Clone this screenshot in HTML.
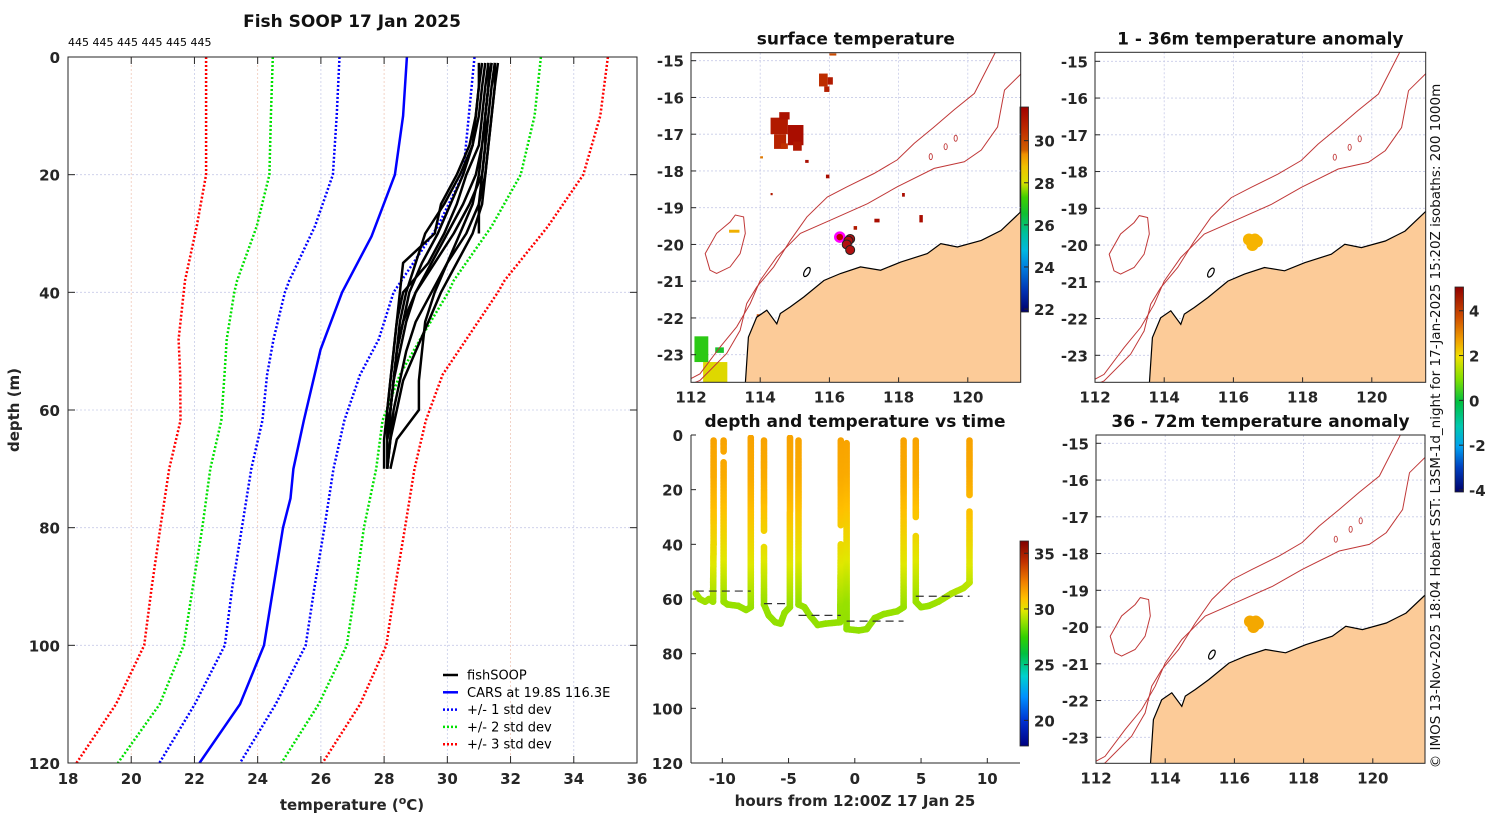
<!DOCTYPE html>
<html><head><meta charset="utf-8"><style>
html,body{margin:0;padding:0;background:#fff;}
svg{display:block;font-family:"DejaVu Sans","Liberation Sans",sans-serif;}
.tk{font-size:15px;font-weight:bold;fill:#262626;}
.ttl{font-size:17px;font-weight:bold;fill:#111;}
</style></head><body>
<svg id="fig" width="1500" height="820" viewBox="0 0 1500 820" xmlns="http://www.w3.org/2000/svg">
<defs>
<linearGradient id="gSst" x1="0" y1="1" x2="0" y2="0">
<stop offset="0" stop-color="#00006a"/><stop offset="0.1" stop-color="#0030b0"/><stop offset="0.22" stop-color="#0080e0"/><stop offset="0.3" stop-color="#00b8e0"/><stop offset="0.38" stop-color="#00c0a0"/><stop offset="0.48" stop-color="#10c030"/><stop offset="0.56" stop-color="#40d000"/><stop offset="0.63" stop-color="#d8e000"/><stop offset="0.71" stop-color="#f0c000"/><stop offset="0.77" stop-color="#f09000"/><stop offset="0.79" stop-color="#d06000"/><stop offset="0.88" stop-color="#c03000"/><stop offset="1" stop-color="#a00000"/>
</linearGradient>
<linearGradient id="gTime" x1="0" y1="1" x2="0" y2="0">
<stop offset="0" stop-color="#00007f"/><stop offset="0.12" stop-color="#0030d0"/><stop offset="0.24" stop-color="#0090ff"/><stop offset="0.34" stop-color="#00d0d0"/><stop offset="0.45" stop-color="#00c040"/><stop offset="0.53" stop-color="#30d000"/><stop offset="0.6" stop-color="#90e000"/><stop offset="0.66" stop-color="#e0e800"/><stop offset="0.72" stop-color="#ffc000"/><stop offset="0.8" stop-color="#f08000"/><stop offset="0.9" stop-color="#c03000"/><stop offset="1" stop-color="#800000"/>
</linearGradient>
<linearGradient id="gAnom" x1="0" y1="1" x2="0" y2="0">
<stop offset="0" stop-color="#00006a"/><stop offset="0.12" stop-color="#0040c0"/><stop offset="0.22" stop-color="#00a0f0"/><stop offset="0.32" stop-color="#00c8b0"/><stop offset="0.44" stop-color="#00c040"/><stop offset="0.55" stop-color="#80e000"/><stop offset="0.66" stop-color="#f0e000"/><stop offset="0.74" stop-color="#f0a000"/><stop offset="0.85" stop-color="#d05000"/><stop offset="1" stop-color="#900000"/>
</linearGradient>
<clipPath id="clipL"><rect x="68" y="57" width="569" height="706"/></clipPath>
<clipPath id="clipT"><rect x="691" y="435" width="329" height="328"/></clipPath>
<clipPath id="clipM1"><rect x="691" y="53" width="330" height="329"/></clipPath>
<clipPath id="clipM2"><rect x="1095" y="52" width="331" height="330"/></clipPath>
<clipPath id="clipM3"><rect x="1096" y="435" width="329" height="328"/></clipPath>
</defs>
<g id="root"></g>
</svg>
<script>
// ---------- Left profile chart data ----------
const carsDepth = [0,10,20,30.5,40,49.7,61.8,70,75,80,90,100,110,120];
const carsMean  = [28.72,28.6,28.34,27.6,26.67,25.99,25.46,25.13,25.04,24.8,24.5,24.2,23.44,22.16];
const sdDepth = [0,10,20,28.8,38,40,48,54,61.8,70,80,90,100,110,120];
const m3 = [22.37,22.37,22.37,22.07,21.7,21.66,21.5,21.55,21.56,21.2,20.92,20.65,20.41,19.52,18.27];
const m2 = [24.48,24.42,24.37,23.97,23.35,23.26,23.02,22.95,22.85,22.5,22.25,21.95,21.66,20.9,19.58];
const m1 = [26.59,26.5,26.38,25.81,25.0,24.86,24.5,24.3,24.15,23.8,23.5,23.2,22.96,22.01,20.89];
const p1 = [30.86,30.68,30.5,29.7,28.55,28.3,27.83,27.24,26.74,26.4,26.11,25.8,25.52,24.57,23.44];
const p2 = [32.96,32.76,32.32,31.4,30.2,30.03,29.14,28.5,27.95,27.75,27.36,27.1,26.82,25.93,24.75];
const p3 = [35.08,34.84,34.3,33.18,31.81,31.6,30.6,29.85,29.32,28.96,28.66,28.35,28.07,27.24,26.05];
const fishDepths = [1,5,10,15,20,25,30,35,40,45,50,55,60,65,70];
const fish1 = [31.5,31.4,31.3,31.2,31.1,30.7,30.2,29.6,29.0,28.6,28.4,28.3,28.2,28.1,28.1];
const fish2 = [31.3,31.2,31.1,31.0,30.6,30.3,29.9,29.4,28.6,28.4,28.3,28.2,28.1,28.1];
const fish3 = [31.6,31.5,31.4,31.3,31.2,31.0,30.6,30.0,29.6,29.3,29.2,29.1,29.1,28.4,28.2];
const fish4 = [31.0,31.0,30.9,30.7,30.3,29.8,29.6,28.6,28.5,28.4,28.3,28.2,28.1,28.0,28.0];
const fish5 = [31.4,31.3,31.2,31.1,30.9,30.5,30.0,29.5,29.0,28.7,28.5,28.3,28.2,28.1];
const fish6 = [31.2,31.1,31.0,30.8,30.5,30.1,29.7,29.2,28.8,28.6,28.4,28.3,28.2,28.2,28.1];
const fish7 = [31.5,31.5,31.4,31.3,31.2,31.1,30.8,30.3,29.8,29.4,29.0,28.6,28.4,28.2];
const fish8 = [31.1,31.0,30.9,30.8,30.4,29.9,29.3,29.0,28.7,28.5,28.4,28.3,28.2,28.1];
const fish9 = [31.3,31.3,31.2,31.1,31.0,30.8,30.4,30.0,29.5,29.0,28.7,28.5,28.3,28.2,28.1];
const fish10 = [31.4,31.3,31.2,31.2,31.1,31.0,31.0];
const tempTicks = [18,20,22,24,26,28,30,32,34,36];
const depthTicks = [0,20,40,60,80,100,120];

// ---------- Time chart data ----------
const traceHours = [-12.0,-11.7,-11.3,-11.0,-10.7,-10.66,-10.66,null,-9.9,-9.9,null,-9.9,-9.9,-9.6,-8.8,-8.2,-7.85,-7.85,null,
 -6.85,-6.85,null,-6.85,-6.85,-6.5,-6.0,-5.6,-5.3,-4.9,-4.89,null,
 -4.25,-4.25,-3.8,-3.4,-2.8,-2.2,-1.1,-1.06,null,-1.06,-1.06,null,
 -0.62,-0.62,0.3,0.9,1.5,2.2,3.2,3.68,3.68,null,
 4.6,4.6,null,4.6,4.6,5.0,5.6,6.3,7.3,8.2,8.66,8.66,null,8.66,8.66];
const traceDepths = [58,60,61,60,61,40,2,null,2,6,null,10,61,62,62.5,64,63,1,null,
 2,35,null,41,62,66,68.5,69,65,63,1,null,
 2,62,63,66,69.5,69,68.5,40,null,33,2,null,
 3,71,71.5,71,67,65.5,64.5,63,2,null,
 2,30,null,37,61,63,62.5,61,58,56,54,28,null,22,2];
const colorDepth = [0,15,25,35,45,55,62,72];
const colorTemp = [31.2,31.0,30.6,30.1,29.6,29.0,28.6,28.5];
const dashStart = [-12.0,-6.85,-4.25,-0.62,4.6];
const dashEnd = [-7.85,-4.89,-1.06,3.68,8.66];
const dashDepth = [57.1,61.7,66.0,68.1,59.0];
const hourTicks = [-10,-5,0,5,10];

// ---------- Map data ----------
const coastLon = [113.57,113.66,113.9,114.19,114.48,114.58,114.87,115.26,115.84,116.32,116.9,117.48,118.06,118.83,119.22,119.7,120.39,120.96,121.6];
const coastLat = [-23.8,-22.52,-21.98,-21.79,-22.16,-21.88,-21.7,-21.43,-20.98,-20.79,-20.61,-20.7,-20.48,-20.25,-19.98,-20.07,-19.89,-19.62,-19.05];
const iso1000Lon = [120.81,120.19,119.6,119.03,118.45,117.96,117.29,116.51,115.94,115.35,114.87,114.39,113.9,113.61,113.42,113.03,112.26,112.0];
const iso1000Lat = [-14.75,-15.89,-16.34,-16.8,-17.25,-17.7,-18.07,-18.43,-18.71,-19.25,-19.89,-20.61,-21.16,-21.61,-22.34,-22.97,-23.7,-23.8];
const iso200Lon = [121.6,121.06,120.86,120.39,119.9,119.03,117.96,117.1,116.03,115.16,114.48,114.0,113.71,113.32,112.84,112.26,112.0];
const iso200Lat = [-15.3,-15.8,-16.8,-17.43,-17.75,-17.93,-18.43,-18.89,-19.34,-19.7,-20.34,-20.98,-21.61,-22.24,-22.79,-23.52,-23.65];
const islandLon = [112.55,112.41,112.74,113.13,113.28,113.52,113.57,113.42,113.13,112.74];
const islandLat = [-20.70,-20.25,-19.70,-19.39,-19.20,-19.25,-19.70,-20.25,-20.61,-20.79];
const moundLon = [118.93,119.36,119.65];
const moundLat = [-17.61,-17.34,-17.11];
const sstLon0 = [114.3,114.55,114.8,114.4,114.95,114.6,115.7,115.95,115.85,114.0,115.9,118.1,118.6,117.3,116.7,114.3,113.1,115.3,113.9,112.35,112.1,112.7,116.0];
const sstLat0 = [-16.55,-16.4,-16.75,-17.0,-17.2,-17.25,-15.35,-15.45,-15.7,-17.6,-18.1,-18.6,-19.2,-19.3,-19.5,-18.6,-19.6,-17.7,-21.9,-23.2,-22.5,-22.8,-14.8];
const sstW = [0.5,0.3,0.45,0.35,0.25,0.2,0.25,0.15,0.15,0.08,0.1,0.08,0.1,0.15,0.1,0.06,0.3,0.1,0.1,0.7,0.4,0.25,0.2];
const sstH = [0.45,0.2,0.55,0.4,0.25,0.15,0.35,0.2,0.15,0.06,0.1,0.1,0.2,0.1,0.1,0.06,0.08,0.08,0.1,0.6,0.7,0.15,0.06];
const sstVal = [31.0,31.2,31.3,30.8,31.1,30.5,30.6,31.0,30.9,29.5,31.3,31.3,31.3,31.3,31.0,31.0,29.0,31.3,30.0,28.2,27.0,26.7,30.0];
const obsLon = [116.6,116.55,116.5,116.6];
const obsLat = [-19.85,-19.9,-20.0,-20.15];
const anomLon = [116.45,116.62,116.55,116.68];
const anomLat = [-19.85,-19.85,-20.0,-19.9];
const lonTicks = [112,114,116,118,120];
const latTicks = [-15,-16,-17,-18,-19,-20,-21,-22,-23];

// ---------- helpers ----------
const NS='http://www.w3.org/2000/svg';
const root=document.getElementById('root');
function mk(tag,attrs,parent){const e=document.createElementNS(NS,tag);for(const k in attrs)e.setAttribute(k,attrs[k]);(parent||root).appendChild(e);return e;}
function txt(x,y,s,cls,anchor,parent){const t=mk('text',{x:x,y:y,class:cls||'tk','text-anchor':anchor||'middle'},parent);t.textContent=s;return t;}
function interp(xs,ys,x){if(x<=xs[0])return ys[0];for(let i=1;i<xs.length;i++){if(x<=xs[i]){const f=(x-xs[i-1])/(xs[i]-xs[i-1]);return ys[i-1]+f*(ys[i]-ys[i-1]);}}return ys[ys.length-1];}
function hex(c){return [parseInt(c.substr(1,2),16),parseInt(c.substr(3,2),16),parseInt(c.substr(5,2),16)];}
function cmap(stops,v){let i=1;while(i<stops.length-1&&v>stops[i][0])i++;const a=stops[i-1],b=stops[i];let f=(v-a[0])/(b[0]-a[0]);f=Math.max(0,Math.min(1,f));const A=hex(a[1]),B=hex(b[1]);return 'rgb('+A.map((x,k)=>Math.round(x+f*(B[k]-x))).join(',')+')';}
const timeStops=[[18,'#00007f'],[20,'#0030d0'],[22,'#0090ff'],[24,'#00d0d0'],[26,'#00c040'],[27.5,'#30d000'],[28.5,'#90e000'],[29.5,'#e0e800'],[30.5,'#ffc000'],[32,'#f08000'],[34,'#c03000'],[36,'#800000']];
const sstStops=[[22,'#00006a'],[23,'#0030b0'],[24,'#0080e0'],[24.8,'#00b8e0'],[25.6,'#00c0a0'],[26.6,'#10c030'],[27.3,'#40d000'],[28,'#d8e000'],[28.8,'#f0c000'],[29.4,'#f09000'],[29.6,'#d06000'],[30.5,'#c03000'],[31.6,'#a00000']];

// ================= LEFT PANEL =================
const L={x0:68,x1:637,y0:57,y1:763};
const sx=t=>L.x0+(t-18)*(L.x1-L.x0)/18;
const sy=d=>L.y0+d*(L.y1-L.y0)/120;
const gL=mk('g',{});


tempTicks.forEach((t,i)=>{const g=mk('line',{x1:sx(t),x2:sx(t),y1:L.y0,y2:L.y1,stroke:i%2?'#f0c8b8':'#c8cce8','stroke-width':0.8,'stroke-dasharray':'2,2'},gL);});
depthTicks.forEach(d=>{const g=mk('line',{x1:L.x0,x2:L.x1,y1:sy(d),y2:sy(d),stroke:'#c8cce8','stroke-width':0.8,'stroke-dasharray':'2,2'},gL);});
const linesG=mk('g',{'clip-path':'url(#clipL)'},gL);
function pl(xs,ds,color,w,dash,name){let p='';for(let i=0;i<xs.length;i++)p+=(i?'L':'M')+sx(xs[i]).toFixed(1)+','+sy(ds[i]).toFixed(1);const e=mk('path',{d:p,fill:'none',stroke:color,'stroke-width':w,'stroke-linejoin':'round'},linesG);if(dash)e.setAttribute('stroke-dasharray',dash);return e;}
pl(m3,sdDepth,'#ff0000',2.5,'2,2','minus-3-std-line');
pl(p3,sdDepth,'#ff0000',2.5,'2,2','plus-3-std-line');
pl(m2,sdDepth,'#00e000',2.5,'2,2','minus-2-std-line');
pl(p2,sdDepth,'#00e000',2.5,'2,2','plus-2-std-line');
pl(m1,sdDepth,'#0000ff',2.5,'2,2','minus-1-std-line');
pl(p1,sdDepth,'#0000ff',2.5,'2,2','plus-1-std-line');
pl(carsMean,carsDepth,'#0000ff',2.5,null,'cars-mean-line');
[fish1,fish2,fish3,fish4,fish5,fish6,fish7,fish8,fish9,fish10].forEach(f=>{pl(f,fishDepths.slice(0,f.length),'#000',2.5,null,'fishsoop-profile');});
const fr=mk('rect',{x:L.x0,y:L.y0,width:L.x1-L.x0,height:L.y1-L.y0,fill:'none',stroke:'#262626','stroke-width':1},gL);

tempTicks.forEach(t=>{mk('line',{x1:sx(t),x2:sx(t),y1:L.y1,y2:L.y1-7,stroke:'#262626'},gL);mk('line',{x1:sx(t),x2:sx(t),y1:L.y0,y2:L.y0+7,stroke:'#262626'},gL);const e=txt(sx(t),784,String(t),'tk','middle',gL);});
depthTicks.forEach(d=>{mk('line',{x1:L.x0,x2:L.x0+7,y1:sy(d),y2:sy(d),stroke:'#262626'},gL);mk('line',{x1:L.x1,x2:L.x1-7,y1:sy(d),y2:sy(d),stroke:'#262626'},gL);const e=txt(60,sy(d)+6,String(d),'tk','end',gL);});
let e;
e=txt(352,27,'Fish SOOP 17 Jan 2025','ttl','middle',gL);
e=mk('text',{x:68,y:46,'font-size':'11','fill':'#000'},gL);e.textContent='445 445 445 445 445 445';
e=mk('text',{x:352,y:810,'text-anchor':'middle','class':'tk','font-size':'16'},gL);e.innerHTML='temperature (<tspan dy="-6" font-size="11">o</tspan><tspan dy="6">C)</tspan>';
e=txt(0,0,'depth (m)','tk','middle',gL);e.setAttribute('transform','translate(19,410) rotate(-90)');e.setAttribute('font-size','16');
// legend
const lg=mk('g',{},gL);
[['fishSOOP','#000',null],['CARS at 19.8S 116.3E','#0000ff',null],['+/- 1 std dev','#0000ff','2,2'],['+/- 2 std dev','#00e000','2,2'],['+/- 3 std dev','#ff0000','2,2']].forEach((r,i)=>{const y=675+i*17.3;const ln=mk('line',{x1:443,x2:458,y1:y,y2:y,stroke:r[1],'stroke-width':2.5},lg);if(r[2])ln.setAttribute('stroke-dasharray',r[2]);const t=mk('text',{x:467,y:y+4.5,'font-size':'13',fill:'#000'},lg);t.textContent=r[0];});

// ================= TIME PANEL =================
const T={x0:691,x1:1020,y0:435,y1:763};
const tx=h=>854.8+h*13.25;
const ty=d=>T.y0+d*(T.y1-T.y0)/120;
const gT=mk('g',{});
const dots=mk('g',{'clip-path':'url(#clipT)'},gT);
for(let i=1;i<traceHours.length;i++){
  if(traceHours[i]===null||traceHours[i-1]===null)continue;
  const xa=tx(traceHours[i-1]),ya=ty(traceDepths[i-1]),xb=tx(traceHours[i]),yb=ty(traceDepths[i]);
  const n=Math.max(1,Math.ceil(Math.hypot(xb-xa,yb-ya)/1.5));
  for(let k=0;k<=n;k++){const f=k/n;const d=traceDepths[i-1]+f*(traceDepths[i]-traceDepths[i-1]);const c=cmap(timeStops,interp(colorDepth,colorTemp,d));const cc=mk('circle',{cx:(xa+f*(xb-xa)).toFixed(1),cy:(ya+f*(yb-ya)).toFixed(1),r:3.3,fill:c},dots);}
}
dashStart.forEach((s,i)=>{const l=mk('line',{x1:tx(s),x2:tx(dashEnd[i]),y1:ty(dashDepth[i]),y2:ty(dashDepth[i]),stroke:'#333','stroke-width':1.2,'stroke-dasharray':'8,5'},gT);});
mk('line',{x1:T.x0,x2:T.x0,y1:T.y0,y2:T.y1,stroke:'#262626'},gT);
mk('line',{x1:T.x0,x2:T.x1,y1:T.y1,y2:T.y1,stroke:'#262626'},gT);
depthTicks.forEach(d=>{mk('line',{x1:T.x0,x2:T.x0+5,y1:ty(d),y2:ty(d),stroke:'#262626'},gT);const e=txt(683,ty(d)+6,String(d),'tk','end',gT);});
hourTicks.forEach(h=>{mk('line',{x1:tx(h),x2:tx(h),y1:T.y1,y2:T.y1-5,stroke:'#262626'},gT);const e=txt(tx(h),784,String(h),'tk','middle',gT);});
e=txt(855,427,'depth and temperature vs time','ttl','middle',gT);
e=txt(855,806,'hours from 12:00Z 17 Jan 25','tk','middle',gT);e.setAttribute('font-size','16');
function colorbar(x,y0,y1,grad,vmin,vmax,ticks,name){const g=mk('g',{});mk('rect',{x:x,y:y0,width:8.5,height:y1-y0,fill:'url(#'+grad+')',stroke:'#262626','stroke-width':0.8},g);ticks.forEach(v=>{const y=y1-(v-vmin)/(vmax-vmin)*(y1-y0);mk('line',{x1:x+8.5,x2:x+4,y1:y,y2:y,stroke:'#262626'},g);const t=txt(x+14,y+6,String(v),'tk','start',g);});}
colorbar(1020,541,746,'gTime',17.7,36.1,[20,25,30,35],'time-colorbar');
colorbar(1020,107,312,'gSst',21.86,31.6,[22,24,26,28,30],'sst-colorbar');
colorbar(1455,287,492,'gAnom',-4.09,5.06,[-4,-2,0,2,4],'anomaly-colorbar');

// ================= MAPS =================
function drawMap(M){
  const g=mk('g',{});
  const mx=lon=>M.x0+(lon-112)*34.6, my=lat=>M.y15+(-15-lat)*36.75;
  const inner=mk('g',{'clip-path':'url(#'+M.clip+')'},g);
  lonTicks.forEach(l=>mk('line',{x1:mx(l),x2:mx(l),y1:M.top,y2:M.bot,stroke:'#c8cce8','stroke-width':0.8,'stroke-dasharray':'2,2'},inner));
  latTicks.forEach(l=>mk('line',{x1:M.x0,x2:M.x1,y1:my(l),y2:my(l),stroke:'#c8cce8','stroke-width':0.8,'stroke-dasharray':'2,2'},inner));
  if(M.sst){sstLon0.forEach((lo,i)=>{const r=mk('rect',{x:mx(lo),y:my(sstLat0[i]),width:sstW[i]*34.6,height:sstH[i]*36.75,fill:cmap(sstStops,sstVal[i])},inner);});}
  let p='';coastLon.forEach((lo,i)=>{p+=(i?'L':'M')+mx(lo).toFixed(1)+','+my(coastLat[i]).toFixed(1);});
  const land=mk('path',{d:p+'L'+(M.x1+5)+','+(M.bot+5)+'L'+mx(113.57)+','+(M.bot+5)+'Z',fill:'#fccb98',stroke:'none'},inner);
  const cst=mk('path',{d:p,fill:'none',stroke:'#000','stroke-width':1.2},inner);
  function line(lons,lats,close,name){let q='';lons.forEach((lo,i)=>{q+=(i?'L':'M')+mx(lo).toFixed(1)+','+my(lats[i]).toFixed(1);});const e=mk('path',{d:q+(close?'Z':''),fill:'none',stroke:'#c03838','stroke-width':1},inner);}
  line(iso1000Lon,iso1000Lat,false,'isobath-1000m');
  line(iso200Lon,iso200Lat,false,'isobath-200m');
  line(islandLon,islandLat,true,'island-outline');
  moundLon.forEach((lo,i)=>{mk('ellipse',{cx:mx(lo),cy:my(moundLat[i]),rx:1.6,ry:3,fill:'none',stroke:'#c03838','stroke-width':0.9},inner);});
  mk('ellipse',{cx:mx(115.35),cy:my(-20.75),rx:2.5,ry:5,fill:'none',stroke:'#000','stroke-width':1.2,transform:'rotate(30 '+mx(115.35)+' '+my(-20.75)+')'},inner);
  if(M.sst){
    const r=mk('circle',{cx:mx(116.3),cy:my(-19.8),r:4.5,fill:'#c00000',stroke:'#ff00ff','stroke-width':2.5},inner);
    obsLon.forEach((lo,i)=>{const c=mk('circle',{cx:mx(lo),cy:my(obsLat[i]),r:4.5,fill:'#b01010',stroke:'#222','stroke-width':1},inner);});
  } else {
    anomLon.forEach((lo,i)=>{const c=mk('circle',{cx:mx(lo),cy:my(anomLat[i]),r:6,fill:M.dot},inner);});
  }
  mk('rect',{x:M.x0,y:M.top,width:M.x1-M.x0,height:M.bot-M.top,fill:'none',stroke:'#262626','stroke-width':1},g);
  lonTicks.forEach(l=>{mk('line',{x1:mx(l),x2:mx(l),y1:M.bot,y2:M.bot-5,stroke:'#262626'},g);const t=txt(mx(l),M.bot+20,String(l),'tk','middle',g);});
  latTicks.forEach(l=>{mk('line',{x1:M.x0,x2:M.x0+5,y1:my(l),y2:my(l),stroke:'#262626'},g);const t=txt(M.x0-7,my(l)+6,String(l),'tk','end',g);});
  const t=txt((M.x0+M.x1)/2,M.top-8,M.title,'ttl','middle',g);
}
drawMap({name:'surface-temperature-map',x0:691,x1:1020.7,top:52.7,bot:382.3,y15:60.7,clip:'clipM1',sst:true,title:'surface temperature'});
drawMap({name:'anomaly-1-36m-map',x0:1095,x1:1425.7,top:52.3,bot:382.3,y15:61.3,clip:'clipM2',sst:false,dot:'#f6b400',title:'1 - 36m temperature anomaly'});
drawMap({name:'anomaly-36-72m-map',x0:1096,x1:1425,top:435,bot:763.3,y15:443.3,clip:'clipM3',sst:false,dot:'#f4a800',title:'36 - 72m temperature anomaly'});
e=mk('text',{'font-size':'13.5',fill:'#111','text-anchor':'middle',transform:'translate(1440,426) rotate(-90)'});
e.textContent='\u00a9 IMOS 13-Nov-2025 18:04 Hobart SST: L3SM-1d_night for 17-Jan-2025 15:20Z isobaths: 200  1000m';

</script>
</body></html>
